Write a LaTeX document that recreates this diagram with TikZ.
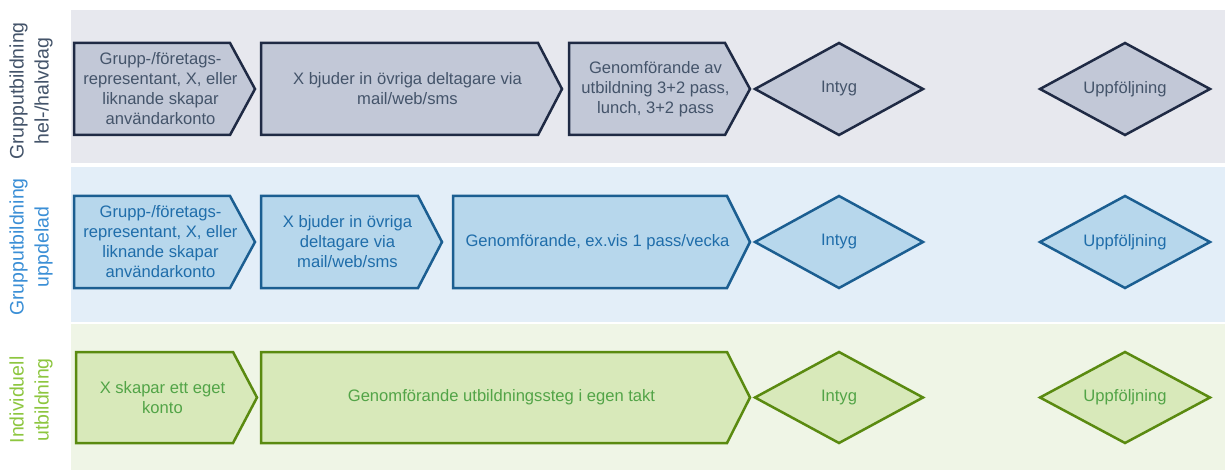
\documentclass[tikz,border=0pt]{standalone}
\usepackage{fontspec}
\setmainfont{Liberation Sans}
\definecolor{aBand}{HTML}{E7E8EE}
\definecolor{aFill}{HTML}{C2C8D7}
\definecolor{aLine}{HTML}{1F2A44}
\definecolor{aText}{HTML}{44546A}
\definecolor{bBand}{HTML}{E3EEF8}
\definecolor{bFill}{HTML}{B7D7EC}
\definecolor{bLine}{HTML}{1B5E91}
\definecolor{bText}{HTML}{1F6DAA}
\definecolor{bLbl}{HTML}{3B8FD6}
\definecolor{cBand}{HTML}{EFF5E6}
\definecolor{cFill}{HTML}{D8E9BA}
\definecolor{cLine}{HTML}{5A8A10}
\definecolor{cText}{HTML}{52A447}
\definecolor{cLbl}{HTML}{8DC63F}
\tikzset{
  txt/.style={font=\fontsize{16.6}{20}\selectfont, align=center, inner sep=0pt},
  lbl/.style={font=\fontsize{19.5}{25}\selectfont, align=center, rotate=90, inner sep=0pt},
  shp/.style={line width=2.5pt, line join=miter},
  Ashape/.style={shp, fill=aFill, draw=aLine},
  Atext/.style={txt, text=aText},
  Bshape/.style={shp, fill=bFill, draw=bLine},
  Btext/.style={txt, text=bText},
  Cshape/.style={shp, fill=cFill, draw=cLine},
  Ctext/.style={txt, text=cText},
}
% #1 row, #2 x1, #3 xflat, #4 xtip, #5 ytop, #6 ybot, #7 name, #8 text
\newcommand{\chevbox}[8]{%
  \draw[#1shape] (#2,#5) -- (#3,#5) -- (#4,{(#5+#6)/2}) -- (#3,#6) -- (#2,#6) -- cycle;
  \node[#1text] (#7) at ({(#2+#4)/2-4},{(#5+#6)/2}) {#8};
}
% #1 row, #2 cx, #3 half width, #4 ytop, #5 ybot, #6 name, #7 text
\newcommand{\diambox}[7]{%
  \draw[#1shape] ({#2-#3},{(#4+#5)/2}) -- (#2,#4) -- ({#2+#3},{(#4+#5)/2}) -- (#2,#5) -- cycle;
  \node[#1text] (#6) at (#2,{(#4+#5)/2}) {#7};
}
\begin{document}
\begin{tikzpicture}[x=1pt,y=-1pt]
\useasboundingbox[fill=white] (0,0) rectangle (1225,470);
% bands
\fill[aBand] (71,10) rectangle (1225,163);
\fill[bBand] (71,167) rectangle (1225,322);
\fill[cBand] (71,324) rectangle (1225,470);
% row labels
\node[lbl, text=aText] (labA) at (31,91) {Grupputbildning\\hel-/halvdag};
\node[lbl, text=bLbl] (labB) at (31,247) {Grupputbildning\\uppdelad};
\node[lbl, text=cLbl] (labC) at (31,400) {Individuell\\utbildning};
% row 1
\chevbox{A}{74}{230}{255}{43}{135}{a1}{Grupp-/företags-\\representant, X, eller\\liknande skapar\\användarkonto}
\chevbox{A}{261}{538}{562}{43}{135}{a2}{X bjuder in övriga deltagare via\\mail/web/sms}
\chevbox{A}{569}{725}{750}{43}{135}{a3}{Genomförande av\\utbildning 3+2 pass,\\lunch, 3+2 pass}
\diambox{A}{839}{84}{43}{135}{a4}{Intyg}
\diambox{A}{1125}{85}{43}{135}{a5}{Uppföljning}
% row 2
\chevbox{B}{74}{230}{255}{196}{288}{b1}{Grupp-/företags-\\representant, X, eller\\liknande skapar\\användarkonto}
\chevbox{B}{261}{418}{442}{196}{288}{b2}{X bjuder in övriga\\deltagare via\\mail/web/sms}
\chevbox{B}{453}{727}{750}{196}{288}{b3}{Genomförande, ex.vis 1 pass/vecka}
\diambox{B}{839}{84}{196}{288}{b4}{Intyg}
\diambox{B}{1125}{85}{196}{288}{b5}{Uppföljning}
% row 3
\chevbox{C}{76}{233}{257}{352}{443}{c1}{X skapar ett eget\\konto}
\chevbox{C}{261}{727}{750}{352}{443}{c2}{Genomförande utbildningssteg i egen takt}
\diambox{C}{839}{84}{352}{443}{c4}{Intyg}
\diambox{C}{1125}{85}{352}{443}{c5}{Uppföljning}
\end{tikzpicture}
\end{document}
